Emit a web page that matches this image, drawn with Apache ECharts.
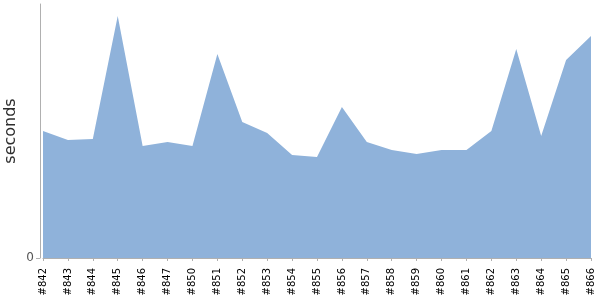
<!DOCTYPE html>
<html>
<head>
<meta charset="utf-8">
<script src="https://cdn.jsdelivr.net/npm/echarts@6/dist/echarts.min.js"></script>
<style>html,body{margin:0;padding:0;background:#fff}#c{width:600px;height:300px}</style>
</head>
<body>
<div id="c"></div>
<script>
const categories = ['#842','#843','#844','#845','#846','#847','#850','#851','#852','#853','#854','#855','#856','#857','#858','#859','#860','#861','#862','#863','#864','#865','#866'];
const seconds = [127,118,119,242,112,116,112,204,136,125,103,101,151,116,108,104,108,108,127,209,122,198,222];
const yTickValues = [0];

const chart = echarts.init(document.getElementById('c'));
chart.setOption({
  animation: false,
  grid: {left: 43, right: 9, top: 4, bottom: 42, containLabel: false, outerBoundsMode: 'none'},
  xAxis: {
    type: 'category',
    data: categories,
    boundaryGap: false,
    offset: 5,
    axisLine: {lineStyle: {color: '#b0b0b0'}},
    axisTick: {alignWithLabel: true, length: 3, lineStyle: {color: '#b0b0b0'}},
    axisLabel: {rotate: 90, interval: 0, fontFamily: 'DejaVu Sans', fontSize: 10, color: '#000', margin: 5}
  },
  yAxis: {
    type: 'value',
    min: 0,
    max: 254,
    offset: 3,
    name: 'seconds',
    nameLocation: 'middle',
    nameGap: 21,
    nameMoveOverlap: false,
    nameTextStyle: {fontFamily: 'DejaVu Sans', fontSize: 16, color: '#2e2e2e'},
    axisLine: {show: true, lineStyle: {color: '#b0b0b0'}},
    axisTick: {show: true, length: 4, customValues: yTickValues, lineStyle: {color: '#b0b0b0'}},
    axisLabel: {customValues: yTickValues, fontFamily: 'DejaVu Sans', fontSize: 12, color: '#555', margin: 6},
    splitLine: {show: false}
  },
  series: [{
    type: 'line',
    data: seconds,
    symbol: 'none',
    lineStyle: {width: 0, color: '#8fb2da'},
    areaStyle: {color: '#8fb2da', opacity: 1}
  }]
});
</script>
</body>
</html>
